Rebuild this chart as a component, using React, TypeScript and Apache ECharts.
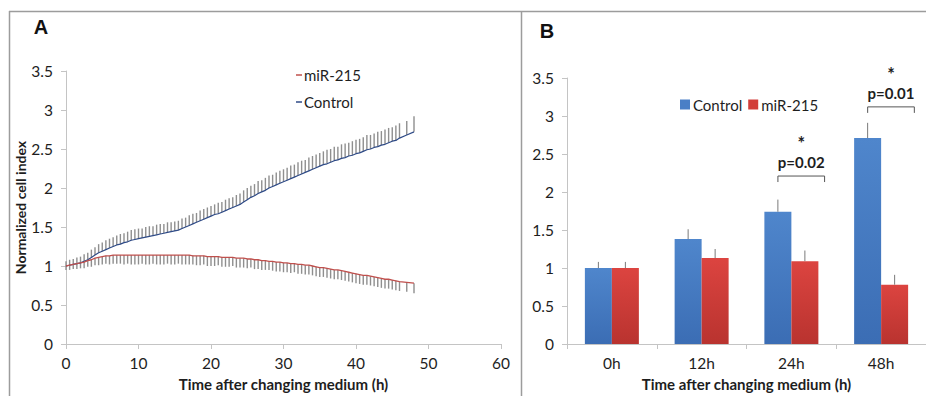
import React, { useEffect, useRef } from "react";
import * as echarts from "echarts";

// ---------- Panel A: real-time cell index ----------
const timeH = [
  0, 0.5, 1, 1.5, 2, 2.5, 3, 3.5, 4, 4.5,
  5, 5.5, 6, 6.5, 7, 7.5, 8, 8.5, 9, 9.5,
  10, 10.5, 11, 11.5, 12, 12.5, 13, 13.5, 14, 14.5,
  15, 15.5, 16, 16.5, 17, 17.5, 18, 18.5, 19, 19.5,
  20, 20.5, 21, 21.5, 22, 22.5, 23, 23.5, 24, 24.5,
  25, 25.5, 26, 26.5, 27, 27.5, 28, 28.5, 29, 29.5,
  30, 30.5, 31, 31.5, 32, 32.5, 33, 33.5, 34, 34.5,
  35, 35.5, 36, 36.5, 37, 37.5, 38, 38.5, 39, 39.5,
  40, 40.5, 41, 41.5, 42, 42.5, 43, 43.5, 44, 44.5,
  45, 45.5, 46, 47, 48,
];

const controlMean = [
  1.0, 1.01, 1.02, 1.03, 1.04, 1.06, 1.08, 1.11, 1.14, 1.17,
  1.19, 1.21, 1.23, 1.25, 1.27, 1.28, 1.3, 1.31, 1.33, 1.34,
  1.35, 1.36, 1.37, 1.38, 1.39, 1.4, 1.41, 1.42, 1.43, 1.44,
  1.45, 1.46, 1.48, 1.5, 1.52, 1.54, 1.56, 1.58, 1.6, 1.62,
  1.64, 1.66, 1.67, 1.69, 1.71, 1.73, 1.75, 1.77, 1.79, 1.82,
  1.85, 1.88, 1.9, 1.93, 1.95, 1.97, 2.0, 2.02, 2.04, 2.06,
  2.08, 2.1, 2.12, 2.14, 2.16, 2.18, 2.2, 2.22, 2.24, 2.26,
  2.28, 2.3, 2.31, 2.33, 2.35, 2.36, 2.38, 2.39, 2.41, 2.42,
  2.44, 2.45, 2.47, 2.49, 2.5, 2.52, 2.53, 2.55, 2.56, 2.58,
  2.6, 2.61, 2.64, 2.68, 2.72,
];

const controlErr = [
  0.06, 0.07, 0.07, 0.08, 0.08, 0.09, 0.09, 0.1, 0.1, 0.11,
  0.11, 0.12, 0.12, 0.12, 0.12, 0.13, 0.12, 0.13, 0.13, 0.13,
  0.13, 0.12, 0.13, 0.13, 0.12, 0.13, 0.13, 0.12, 0.13, 0.12,
  0.12, 0.12, 0.13, 0.12, 0.13, 0.13, 0.12, 0.13, 0.13, 0.13,
  0.13, 0.13, 0.14, 0.13, 0.14, 0.14, 0.13, 0.14, 0.14, 0.15,
  0.15, 0.15, 0.15, 0.16, 0.15, 0.16, 0.16, 0.15, 0.16, 0.16,
  0.16, 0.16, 0.17, 0.16, 0.17, 0.17, 0.16, 0.17, 0.17, 0.17,
  0.17, 0.17, 0.18, 0.17, 0.18, 0.17, 0.18, 0.18, 0.17, 0.18,
  0.18, 0.18, 0.18, 0.19, 0.18, 0.18, 0.19, 0.18, 0.19, 0.19,
  0.18, 0.19, 0.19, 0.18, 0.2,
];

const mirMean = [
  1.0, 1.01, 1.02, 1.03, 1.04, 1.05, 1.07, 1.08, 1.1, 1.11,
  1.12, 1.13, 1.13, 1.14, 1.14, 1.14, 1.14, 1.14, 1.14, 1.14,
  1.14, 1.14, 1.14, 1.14, 1.14, 1.14, 1.14, 1.14, 1.14, 1.14,
  1.14, 1.14, 1.14, 1.14, 1.14, 1.13, 1.13, 1.13, 1.13, 1.12,
  1.12, 1.12, 1.12, 1.11, 1.11, 1.11, 1.11, 1.1, 1.1, 1.1,
  1.09, 1.09, 1.08, 1.08, 1.07, 1.07, 1.06, 1.06, 1.05, 1.05,
  1.04, 1.04, 1.03, 1.03, 1.02, 1.02, 1.01, 1.01, 1.0, 0.99,
  0.98, 0.98, 0.97, 0.96, 0.95, 0.95, 0.94, 0.93, 0.92, 0.91,
  0.9, 0.89, 0.88, 0.88, 0.87, 0.86, 0.85, 0.84, 0.83, 0.83,
  0.82, 0.81, 0.8, 0.79, 0.78,
];

const mirErr = [
  0.05, 0.06, 0.06, 0.07, 0.07, 0.08, 0.08, 0.09, 0.09, 0.1,
  0.1, 0.1, 0.11, 0.11, 0.11, 0.11, 0.12, 0.11, 0.12, 0.12,
  0.12, 0.11, 0.12, 0.12, 0.11, 0.12, 0.12, 0.12, 0.11, 0.12,
  0.12, 0.11, 0.12, 0.12, 0.12, 0.11, 0.12, 0.12, 0.11, 0.12,
  0.12, 0.12, 0.11, 0.12, 0.12, 0.12, 0.11, 0.12, 0.12, 0.12,
  0.12, 0.11, 0.12, 0.12, 0.12, 0.12, 0.11, 0.12, 0.12, 0.12,
  0.12, 0.12, 0.12, 0.11, 0.12, 0.12, 0.12, 0.12, 0.12, 0.12,
  0.12, 0.12, 0.12, 0.12, 0.12, 0.12, 0.12, 0.12, 0.12, 0.12,
  0.12, 0.12, 0.12, 0.12, 0.12, 0.12, 0.12, 0.12, 0.12, 0.12,
  0.12, 0.12, 0.12, 0.12, 0.13,
];

// ---------- Panel B: bar chart ----------
const barCategories = ["0h", "12h", "24h", "48h"];
const barControl = [1.0, 1.38, 1.74, 2.71];
const barControlErr = [0.08, 0.13, 0.16, 0.2];
const barMir = [1.0, 1.13, 1.09, 0.78];
const barMirErr = [0.08, 0.12, 0.14, 0.13];

const sigCategories = ["24h", "48h"];
const sigLevels = [2.21, 3.12];
const sigLabels = ["p=0.02", "p=0.01"];

const FONT = "Lato, 'Open Sans', sans-serif";
const TXT = "#1e1e1e";
const AXIS = "#c4c4c4";
const BAR_W = 27;

export default function App() {
  const ref = useRef<HTMLDivElement>(null);

  useEffect(() => {
    if (!ref.current) return;
    const chart = echarts.init(ref.current, undefined, { renderer: "svg" });

    const ctrlErrData = timeH.map((t, i) => [t, controlMean[i], controlMean[i] + controlErr[i]]);
    const mirErrData = timeH.map((t, i) => [t, mirMean[i] - mirErr[i], mirMean[i]]);

    const errRender = (params: any, api: any) => {
      const p1 = api.coord([api.value(0), api.value(1)]);
      const p2 = api.coord([api.value(0), api.value(2)]);
      return {
        type: "line",
        shape: { x1: p1[0], y1: p1[1], x2: p2[0], y2: p2[1] },
        style: { stroke: "#8f8f8f", lineWidth: 1.4 },
      };
    };

    const barErrRender = (offset: number) => (params: any, api: any) => {
      const p1 = api.coord([api.value(0), api.value(1)]);
      const p2 = api.coord([api.value(0), api.value(2)]);
      return {
        type: "line",
        shape: { x1: p1[0] + offset, y1: p1[1], x2: p2[0] + offset, y2: p2[1] },
        style: { stroke: "#7a7a7a", lineWidth: 1 },
      };
    };

    const sigRender = (params: any, api: any) => {
      const c = api.coord([api.value(0), api.value(1)]);
      const w = api.size([1, 0])[0];
      const x1 = c[0] - 0.15 * w;
      const x2 = c[0] + 0.37 * w;
      const y = c[1];
      const mid = (x1 + x2) / 2;
      return {
        type: "group",
        children: [
          {
            type: "polyline",
            shape: { points: [[x1, y + 6], [x1, y], [x2, y], [x2, y + 6]] },
            style: { stroke: "#555", lineWidth: 1, fill: "none" },
          },
          {
            type: "text",
            x: mid,
            y: y - 14,
            style: {
              text: sigLabels[params.dataIndex],
              font: `bold 15px ${FONT}`,
              fill: TXT,
              align: "center",
              verticalAlign: "middle",
            },
          },
          {
            type: "text",
            x: mid,
            y: y - 24,
            style: {
              text: "*",
              font: `bold 18px ${FONT}`,
              fill: TXT,
              align: "center",
              verticalAlign: "bottom",
            },
          },
        ],
      };
    };

    const axisLabelStyle = { color: TXT, fontSize: 15.5, fontFamily: FONT };
    const nameStyle = { color: TXT, fontSize: 15, fontWeight: "bold" as const, fontFamily: FONT };

    const blueGrad = new echarts.graphic.LinearGradient(0, 0, 0, 1, [
      { offset: 0, color: "#4f86cc" },
      { offset: 1, color: "#3b6db4" },
    ]);
    const redGrad = new echarts.graphic.LinearGradient(0, 0, 0, 1, [
      { offset: 0, color: "#dc4440" },
      { offset: 1, color: "#b9332f" },
    ]);

    chart.setOption({
      animation: false,
      backgroundColor: "#ffffff",
      textStyle: { fontFamily: FONT },
      grid: [
        { left: 66, top: 71, width: 435, height: 275 },
        { left: 567, top: 78, width: 376, height: 268 },
      ],
      xAxis: [
        {
          gridIndex: 0,
          type: "value",
          min: 0,
          max: 60,
          interval: 10,
          splitLine: { show: false },
          axisLine: { lineStyle: { color: AXIS } },
          axisTick: { show: true, length: 5, lineStyle: { color: AXIS } },
          axisLabel: { ...axisLabelStyle, margin: 11 },
          name: "Time after changing medium (h)",
          nameLocation: "middle",
          nameGap: 32,
          nameTextStyle: nameStyle,
        },
        {
          gridIndex: 1,
          type: "category",
          data: barCategories,
          axisLine: { lineStyle: { color: AXIS } },
          axisTick: { show: true, length: 5, lineStyle: { color: AXIS } },
          axisLabel: { ...axisLabelStyle, margin: 11 },
          name: "Time after changing medium (h)",
          nameLocation: "middle",
          nameGap: 32,
          nameTextStyle: nameStyle,
        },
      ],
      yAxis: [
        {
          gridIndex: 0,
          type: "value",
          min: 0,
          max: 3.5,
          interval: 0.5,
          splitLine: { show: false },
          axisLine: { show: true, lineStyle: { color: AXIS } },
          axisTick: { show: true, length: 5, lineStyle: { color: AXIS } },
          axisLabel: { ...axisLabelStyle, margin: 13 },
          name: "Normalized cell index",
          nameLocation: "middle",
          nameGap: 36,
          nameTextStyle: { ...nameStyle, fontSize: 14 },
        },
        {
          gridIndex: 1,
          type: "value",
          min: 0,
          max: 3.5,
          interval: 0.5,
          splitLine: { show: false },
          axisLine: { show: true, lineStyle: { color: AXIS } },
          axisTick: { show: true, length: 5, lineStyle: { color: AXIS } },
          axisLabel: { ...axisLabelStyle, margin: 13 },
        },
      ],
      legend: [
        {
          left: 291,
          top: 61,
          orient: "vertical",
          itemGap: 9,
          itemWidth: 6,
          itemHeight: 1.5,
          selectedMode: false,
          textStyle: { color: TXT, fontSize: 15, fontFamily: FONT, lineHeight: 18, padding: [0, 0, 0, -3] },
          data: [
            { name: "miR-215", icon: "rect", itemStyle: { color: "#c0504d" } },
            { name: "Control", icon: "rect", itemStyle: { color: "#2f4b87" } },
          ],
        },
        {
          left: 675,
          top: 92,
          orient: "horizontal",
          itemGap: 6,
          itemWidth: 10,
          itemHeight: 10,
          selectedMode: false,
          textStyle: { color: TXT, fontSize: 15, fontFamily: FONT, padding: [0, 0, 0, -2] },
          data: [
            { name: "Control", icon: "rect", itemStyle: { color: "#4a7fc6" } },
            { name: "miR-215", icon: "rect", itemStyle: { color: "#d23e3a" } },
          ],
        },
      ],
      series: [
        {
          type: "custom",
          name: "ctrlErr",
          xAxisIndex: 0,
          yAxisIndex: 0,
          renderItem: errRender,
          data: ctrlErrData,
          silent: true,
          z: 1,
        },
        {
          type: "custom",
          name: "mirErr",
          xAxisIndex: 0,
          yAxisIndex: 0,
          renderItem: errRender,
          data: mirErrData,
          silent: true,
          z: 1,
        },
        {
          type: "line",
          name: "Control",
          xAxisIndex: 0,
          yAxisIndex: 0,
          data: timeH.map((t, i) => [t, controlMean[i]]),
          showSymbol: false,
          lineStyle: { color: "#2f4b87", width: 1.2 },
          itemStyle: { color: "#2f4b87" },
          z: 3,
        },
        {
          type: "line",
          name: "miR-215",
          xAxisIndex: 0,
          yAxisIndex: 0,
          data: timeH.map((t, i) => [t, mirMean[i]]),
          showSymbol: false,
          lineStyle: { color: "#c0504d", width: 1.3 },
          itemStyle: { color: "#c0504d" },
          z: 3,
        },
        {
          type: "bar",
          name: "Control",
          xAxisIndex: 1,
          yAxisIndex: 1,
          data: barControl,
          barWidth: BAR_W,
          barGap: "0%",
          itemStyle: { color: blueGrad },
        },
        {
          type: "bar",
          name: "miR-215",
          xAxisIndex: 1,
          yAxisIndex: 1,
          data: barMir,
          barWidth: BAR_W,
          barGap: "0%",
          itemStyle: { color: redGrad },
        },
        {
          type: "custom",
          name: "barCtrlErr",
          xAxisIndex: 1,
          yAxisIndex: 1,
          renderItem: barErrRender(-BAR_W / 2),
          data: barCategories.map((c, i) => [i, barControl[i], barControl[i] + barControlErr[i]]),
          silent: true,
          z: 3,
        },
        {
          type: "custom",
          name: "barMirErr",
          xAxisIndex: 1,
          yAxisIndex: 1,
          renderItem: barErrRender(BAR_W / 2),
          data: barCategories.map((c, i) => [i, barMir[i], barMir[i] + barMirErr[i]]),
          silent: true,
          z: 3,
        },
        {
          type: "custom",
          name: "sig",
          xAxisIndex: 1,
          yAxisIndex: 1,
          renderItem: sigRender,
          data: sigCategories.map((c, i) => [barCategories.indexOf(c), sigLevels[i]]),
          silent: true,
          z: 4,
        },
      ],
      graphic: [
        {
          type: "line",
          shape: { x1: 9, y1: 11.5, x2: 926, y2: 11.5 },
          style: { stroke: "#9c9c9c", lineWidth: 1.5 },
        },
        {
          type: "line",
          shape: { x1: 9.5, y1: 11, x2: 9.5, y2: 396 },
          style: { stroke: "#9c9c9c", lineWidth: 1.5 },
        },
        {
          type: "line",
          shape: { x1: 521.5, y1: 11, x2: 521.5, y2: 396 },
          style: { stroke: "#9c9c9c", lineWidth: 1.5 },
        },
        {
          type: "text",
          x: 41,
          y: 27,
          style: {
            text: "A",
            font: "bold 20px Arial, 'Liberation Sans', sans-serif",
            fill: "#111",
            align: "center",
            verticalAlign: "middle",
          },
        },
        {
          type: "text",
          x: 547,
          y: 31,
          style: {
            text: "B",
            font: "bold 20px Arial, 'Liberation Sans', sans-serif",
            fill: "#111",
            align: "center",
            verticalAlign: "middle",
          },
        },
      ],
    });

    return () => chart.dispose();
  }, []);

  return (
    <div
      ref={ref}
      style={{ position: "fixed", left: 0, top: 0, width: 926, height: 396, background: "#fff" }}
    />
  );
}
